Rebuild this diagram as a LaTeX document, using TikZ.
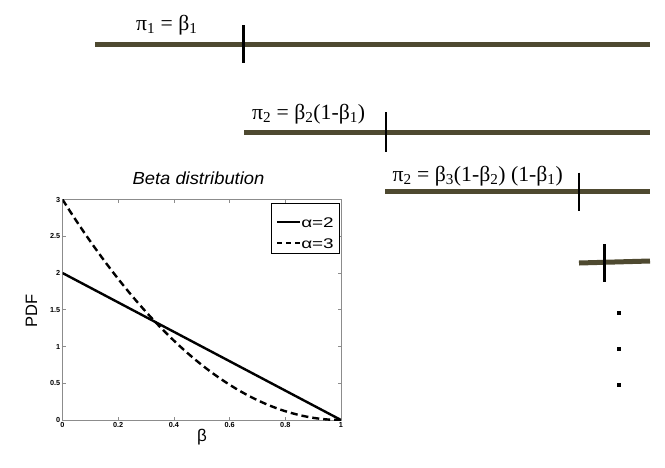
\documentclass[tikz,border=0pt]{standalone}
\usepackage{fontspec}
\setmainfont{Liberation Serif}
\setsansfont{Liberation Sans}
\begin{document}
\begin{tikzpicture}[x=1pt,y=-1pt,
  bar/.style={line width=5pt,draw={rgb,255:red,78;green,73;blue,48}},
  cut/.style={line width=2.6pt,black},
  lab/.style={font=\fontsize{21.7}{23}\selectfont,anchor=base west,inner sep=0pt},
  tl/.style={font=\sffamily\bfseries\fontsize{7.3}{8}\selectfont,inner sep=1pt},
  axbox/.style={draw=gray!90,line width=1pt},
  curve/.style={line width=2.4pt,black},
  legtext/.style={font=\sffamily\fontsize{14}{16}\selectfont,anchor=west,inner sep=0pt,xscale=1.35},
  dot/.style={fill=black,minimum size=4pt,inner sep=0pt,draw=none}]
\useasboundingbox (0,0) rectangle (665,467);
% stick-breaking bars
\coordinate (a1) at (95,44); \coordinate (b1) at (650,44);
\draw[bar] (a1) -- (b1);
\coordinate (t1a) at (243.5,25); \coordinate (t1b) at (243.5,63);
\draw[cut] (t1a) -- (t1b);
\node[lab] (l1) at (136,30) {π\textsubscript{1} = β\textsubscript{1}};
\coordinate (a2) at (244,132.5); \coordinate (b2) at (650,132.5);
\draw[bar] (a2) -- (b2);
\coordinate (t2a) at (386,112); \coordinate (t2b) at (386,152);
\draw[cut] (t2a) -- (t2b);
\node[lab] (l2) at (252,119.5) {π\textsubscript{2} = β\textsubscript{2}(1-β\textsubscript{1})};
\coordinate (a3) at (385,191.5); \coordinate (b3) at (650,191.5);
\draw[bar] (a3) -- (b3);
\coordinate (t3a) at (579,172.5); \coordinate (t3b) at (579,211);
\draw[cut] (t3a) -- (t3b);
\node[lab] (l3) at (392.5,181.5) {π\textsubscript{2} = β\textsubscript{3}(1-β\textsubscript{2}) (1-β\textsubscript{1})};
\coordinate (a4) at (579,263); \coordinate (b4) at (650,261);
\draw[bar] (a4) -- (b4);
\coordinate (t4a) at (604.5,244); \coordinate (t4b) at (604.5,282);
\draw[cut] (t4a) -- (t4b);
\node[dot] (d1) at (618.5,313) {};
\node[dot] (d2) at (618.5,349) {};
\node[dot] (d3) at (618.5,384.5) {};
% plot
\node[font=\sffamily\itshape\fontsize{17.5}{19}\selectfont,xscale=1.05] (title) at (198.5,178) {Beta distribution};
\node[font=\sffamily\fontsize{16.5}{18}\selectfont,rotate=90] (ylab) at (31.5,310.5) {PDF};
\node[font=\sffamily\fontsize{17}{18}\selectfont] (xlab) at (202,437) {β};
\coordinate (o) at (62.5,420); \coordinate (c) at (341,199.5);
\foreach \i/\t in {0/0,1/0.2,2/0.4,3/0.6,4/0.8,5/1}{
  \pgfmathsetmacro{\xx}{62.5+55.7*\i}
  \draw[gray!90,line width=0.8pt] (\xx,420) -- (\xx,417);
  \draw[gray!90,line width=0.8pt] (\xx,199.5) -- (\xx,202.5);
  \node[tl,anchor=north] (xt\i) at (\xx,421.5) {\t};
}
\foreach \i/\t in {0/0,1/0.5,2/1,3/1.5,4/2,5/2.5,6/3}{
  \pgfmathsetmacro{\yy}{420-36.75*\i}
  \draw[gray!90,line width=0.8pt] (62.5,\yy) -- (65.5,\yy);
  \draw[gray!90,line width=0.8pt] (341,\yy) -- (338,\yy);
  \node[tl,anchor=east] (yt\i) at (61.5,\yy) {\t};
}
\draw[axbox] (o) rectangle (c);
\begin{scope}
\clip (o) rectangle (c);
\draw[curve] plot[domain=0:1,samples=50] ({62.5+278.5*\x},{420-73.5*2*(1-\x)});
\draw[curve,dash pattern=on 7pt off 4pt] plot[domain=0:1,samples=80] ({62.5+278.5*\x},{420-73.5*3*(1-\x)^2});
\end{scope}
\node[draw=black,line width=0.8pt,fill=white,minimum width=67.5pt,minimum height=50pt,inner sep=0pt] (leg) at (305.5,228.3) {};
\coordinate (s1a) at (277,222.3); \coordinate (s1b) at (300,222.3);
\draw[line width=2.2pt] (s1a) -- (s1b);
\node[legtext] (lg1) at (301,222.3) {α=2};
\coordinate (s2a) at (277,243.3); \coordinate (s2b) at (300,243.3);
\draw[line width=2.2pt,dash pattern=on 5pt off 4pt] (s2a) -- (s2b);
\node[legtext] (lg2) at (301,243.3) {α=3};
\end{tikzpicture}
\end{document}
